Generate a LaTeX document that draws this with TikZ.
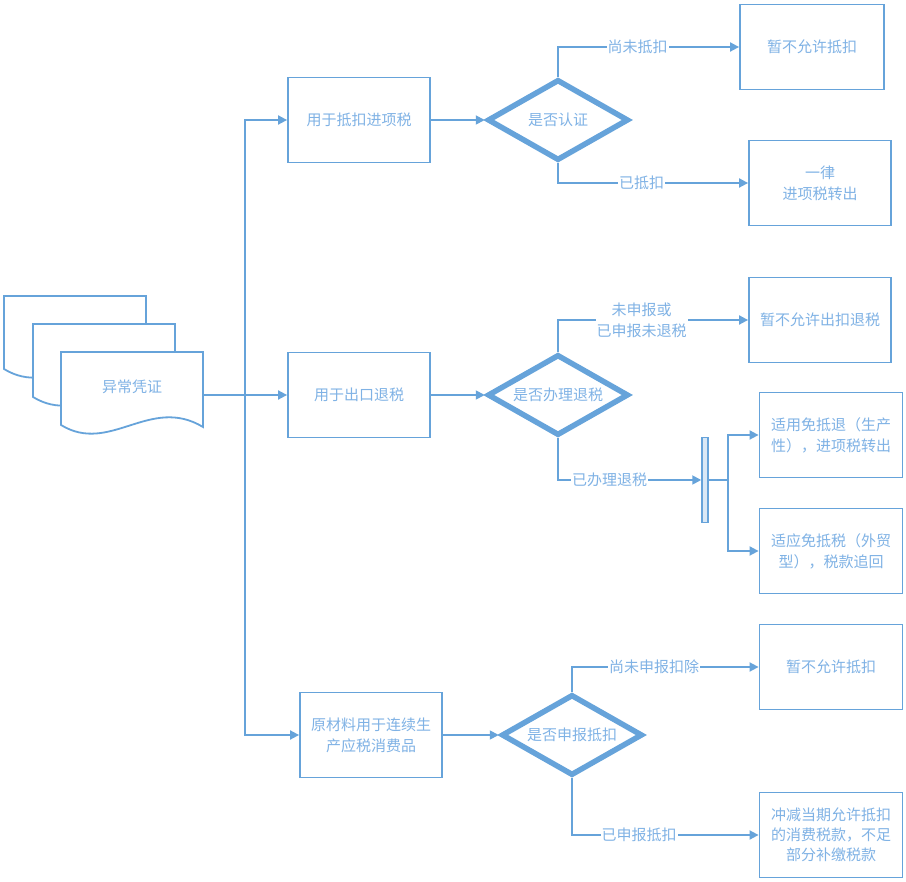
\documentclass[tikz,border=0pt]{standalone}
\usepackage{fontspec}
\newfontfamily\cjk{Noto Sans CJK SC}
\usetikzlibrary{shapes.geometric,arrows.meta}
\definecolor{ln}{HTML}{66A3DA}
\definecolor{tx}{HTML}{7FB2E5}
\begin{document}
\begin{tikzpicture}[x=1pt,y=-1pt,
 every node/.style={font=\cjk\fontsize{15}{21}\selectfont, text=tx},
 box/.style={draw=ln, line width=1.8pt, fill=white, minimum width=142pt, minimum height=85pt, align=center, inner sep=2pt},
 dec/.style={draw=ln, line width=5.5pt, shape=diamond, minimum width=141pt, minimum height=81pt, inner sep=0pt, aspect=1.7},
 conn/.style={draw=ln, line width=1.8pt, -{Triangle[length=9pt,width=9pt]}},
 plain/.style={draw=ln, line width=1.8pt},
 lab/.style={fill=white, inner sep=1pt, align=center},
 docsh/.style={draw=ln, line width=1.8pt, fill=white}
]
\useasboundingbox (0,0) rectangle (906,882);

% document stack
\draw[docsh] (4,296) -- (146,296) -- (146,371) .. controls (93,339) and (53,399) .. (4,369) -- cycle;
\draw[docsh] (33,324) -- (175,324) -- (175,399) .. controls (122,367) and (82,427) .. (33,397) -- cycle;
\draw[docsh] (61,352) -- (203,352) -- (203,427) .. controls (150,395) and (110,455) .. (61,425) -- cycle;
\node[minimum width=142pt, minimum height=86pt, inner sep=0pt] (doc) at (132,395) {};
\node (doct) at (132,387) {异常凭证};
\coordinate (j) at (245,395);

% branch 1
\node[box] (b1) at (359,120) {用于抵扣进项税};
\node[dec] (d1) at (558,120) {是否认证};
\node[box, minimum width=144pt] (t1) at (812,47) {暂不允许抵扣};
\node[box] (t2) at (820,183) {一律\\进项税转出};

% branch 2
\node[box] (b2) at (359,395) {用于出口退税};
\node[dec] (d2) at (558,395) {是否办理退税};
\node[box] (t3) at (820,320) {暂不允许出扣退税};
\node[draw=ln, line width=1.5pt, fill=ln!25, minimum width=6pt, minimum height=85pt, inner sep=0pt] (bar) at (705,480) {};
\coordinate (f) at (728,480);
\node[box, minimum width=143pt] (t4) at (831,435) {适用免抵退（生产\\性），进项税转出};
\node[box, minimum width=143pt] (t5) at (831,551) {适应免抵税（外贸\\型），税款追回};

% branch 3
\node[box] (b3) at (371,735) {原材料用于连续生\\产应税消费品};
\node[dec] (d3) at (572,735) {是否申报抵扣};
\node[box, minimum width=143pt] (t6) at (831,667) {暂不允许抵扣};
\node[box, minimum width=143pt, font=\cjk\fontsize{15}{20}\selectfont] (t7) at (831,835) {冲减当期允许抵扣\\的消费税款，不足\\部分补缴税款};

% connectors
\draw[conn] (doc.east) -- (b2.west);
\draw[conn] (j) |- (b1.west);
\draw[conn] (j) |- (b3.west);

\draw[conn] (b1) -- (d1);
\draw[conn] (d1.north) |- node[lab, pos=0.72] {尚未抵扣} (t1.west);
\draw[conn] (d1.south) |- node[lab, pos=0.72] {已抵扣} (t2.west);

\draw[conn] (b2) -- (d2);
\draw[conn] (d2.north) |- node[lab, pos=0.72] {未申报或\\已申报未退税} (t3.west);
\draw[conn] (d2.south) |- node[lab, pos=0.68] {已办理退税} (bar.west);
\draw[plain] (bar.east) -- (f);
\draw[conn] (f) |- (t4.west);
\draw[conn] (f) |- (t5.west);

\draw[conn] (b3) -- (d3);
\draw[conn] (d3.north) |- node[lab, pos=0.72] {尚未申报扣除} (t6.west);
\draw[conn] (d3.south) |- node[lab, pos=0.68] {已申报抵扣} (t7.west);
\end{tikzpicture}
\end{document}
